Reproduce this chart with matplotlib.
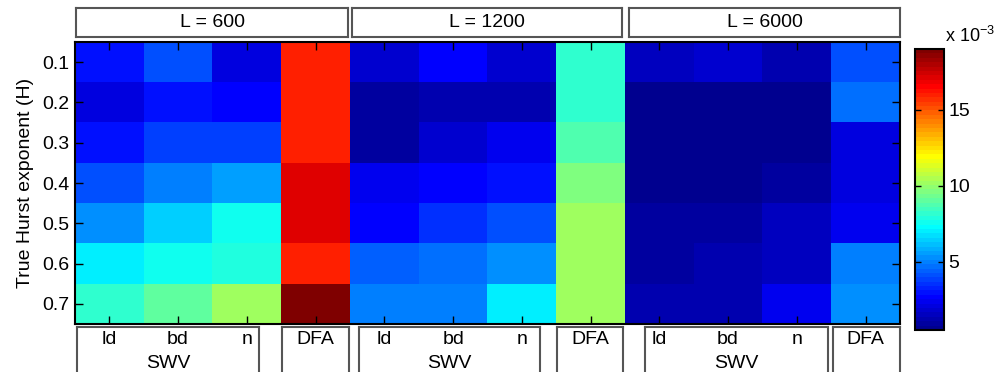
import numpy as np
import matplotlib
matplotlib.use('Agg')
import matplotlib.pyplot as plt
from matplotlib.colors import ListedColormap
from matplotlib.transforms import blended_transform_factory

plt.rcParams['font.family'] = ['Liberation Sans', 'DejaVu Sans']
plt.rcParams['mathtext.fontset'] = 'custom'
plt.rcParams['mathtext.rm'] = 'Liberation Sans'
plt.rcParams['mathtext.it'] = 'Liberation Sans'

# ---------------- data (values in units of 1e-3) ----------------
hurst = [0.1, 0.2, 0.3, 0.4, 0.5, 0.6, 0.7]
methods = ['ld', 'bd', 'n', 'DFA']
lengths = ['L = 600', 'L = 1200', 'L = 6000']

# columns: ld, bd, n, DFA
err_L600 = [
    [3.1, 4.0, 2.0, 16.1],
    [2.0, 3.1, 2.6, 16.1],
    [3.0, 3.9, 3.9, 16.0],
    [4.1, 5.1, 5.5, 17.2],
    [5.3, 6.3, 7.7, 17.2],
    [6.9, 7.7, 8.0, 16.1],
    [8.3, 8.9, 10.3, 19.0],
]
err_L1200 = [
    [1.9, 2.7, 1.7, 8.3],
    [0.9, 1.2, 1.3, 8.3],
    [1.0, 1.9, 2.4, 8.6],
    [2.3, 2.6, 3.1, 9.6],
    [2.8, 3.4, 4.1, 10.1],
    [4.3, 4.6, 5.4, 10.3],
    [4.9, 5.1, 6.9, 10.3],
]
err_L6000 = [
    [1.6, 1.9, 1.3, 4.0],
    [0.55, 0.55, 0.55, 4.8],
    [0.55, 0.55, 0.55, 2.2],
    [0.55, 0.5, 0.9, 2.2],
    [0.9, 0.9, 1.4, 2.5],
    [0.8, 1.1, 1.4, 4.9],
    [1.1, 1.2, 2.3, 5.2],
]
cbar_ticks = [5, 10, 15]
vmin, vmax = 0.5, 19.0

data = np.hstack([np.array(err_L600), np.array(err_L1200), np.array(err_L6000)])
nrows, ncols = data.shape


def matlab_jet(m=64):
    n = int(np.ceil(m / 4))
    u = np.concatenate([np.arange(1, n + 1) / n, np.ones(n - 1), np.arange(n, 0, -1) / n])
    g = int(np.ceil(n / 2)) - (1 if m % 4 == 1 else 0) + np.arange(1, len(u) + 1)
    r = g + n
    b = g - n
    J = np.zeros((m, 3))
    for arr, col in ((r, 0), (g, 1), (b, 2)):
        mask = (arr >= 1) & (arr <= m)
        J[arr[mask] - 1, col] = u[mask]
    return ListedColormap(J)


cmap = matlab_jet(64)

W, H = 999, 372
fig = plt.figure(figsize=(W / 100, H / 100), dpi=100)


def px_axes(x0, y0, x1, y1):
    return fig.add_axes([x0 / W, 1 - y1 / H, (x1 - x0) / W, (y1 - y0) / H])


FS = 14
ax = px_axes(75, 42, 900, 324)
im = ax.imshow(data, cmap=cmap, vmin=vmin, vmax=vmax, aspect='auto',
               interpolation='nearest',
               extent=(0.5, ncols + 0.5, nrows + 0.5, 0.5))
ax.set_xticks(np.arange(1, ncols + 1))
ax.set_xticklabels([])
ax.set_yticks(np.arange(1, nrows + 1))
ax.set_yticklabels([f'{h:.1f}' for h in hurst], fontsize=FS)
ax.tick_params(direction='in', top=True, right=True, length=6, width=1, pad=4)
for s in ax.spines.values():
    s.set_linewidth(1.5)
ax.set_ylabel('True Hurst exponent (H)', fontsize=FS, labelpad=6)

edge = '#555555'


def box(x0, y0, x1, y1):
    b = px_axes(x0, y0, x1, y1)
    b.set_xticks([]); b.set_yticks([])
    b.set_facecolor('none')
    for s in b.spines.values():
        s.set_edgecolor(edge)
        s.set_linewidth(1.5)
    return b


# headers
header_px = [(76, 348), (352, 622), (629, 900)]
for (x0, x1), lab in zip(header_px, lengths):
    b = box(x0, 8, x1, 37)
    b.text(0.5, 0.5, lab, ha='center', va='center', fontsize=FS, transform=b.transAxes)

# bottom boxes
swv_px = [(77, 259), (359, 540), (645, 828)]
dfa_px = [(282, 349), (557, 623), (833, 900)]
for (x0, x1) in swv_px:
    b = box(x0, 327, x1, 390)
    b.text(0.5, (390 - 364) / (390 - 327), 'SWV', ha='center', va='center',
           fontsize=FS, transform=b.transAxes)
for (x0, x1) in dfa_px:
    box(x0, 327, x1, 390)

trans = blended_transform_factory(ax.transData, fig.transFigure)
for g in range(len(lengths)):
    for k, m in enumerate(methods):
        col = g * len(methods) + k + 1
        fig.text(0, 0, m, ha='center', va='center', fontsize=FS,
                 transform=trans).set_position((col, 1 - 339 / H))

# colorbar
cax = px_axes(915, 49, 944, 330)
cb = fig.colorbar(im, cax=cax, ticks=cbar_ticks)
cb.ax.tick_params(direction='in', left=True, right=True, length=4, width=1,
                  labelsize=FS, pad=3)
cb.outline.set_linewidth(1.5)
fig.text(945 / W, 1 - 36 / H, r'x 10$^{-3}$', ha='left', va='center', fontsize=FS - 1)

fig.savefig('out.png', dpi=100)
